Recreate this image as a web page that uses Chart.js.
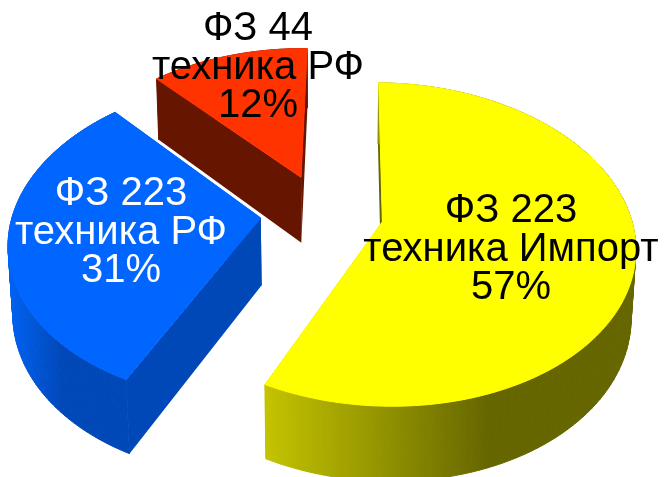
<!DOCTYPE html>
<html>
<head>
<meta charset="utf-8">
<script src="https://cdn.jsdelivr.net/npm/chart.js@4"></script>
<style>
  html, body { margin: 0; background: #fff; }
  canvas { display: block; }
</style>
</head>
<body>
<canvas id="myChart" width="664" height="477"></canvas>
<script>
const categories = ['ФЗ 223 техника Импорт', 'ФЗ 223 техника РФ', 'ФЗ 44 техника РФ'];
const values = [57, 31, 12];
const labelLines = [
  ['ФЗ 223', 'техника Импорт', '57%'],
  ['ФЗ 223', 'техника РФ', '31%'],
  ['ФЗ 44', 'техника РФ', '12%']
];
const topColors = ['#FFFF00', '#0066FF', '#FF3300'];
const cutColors = ['#666600', '#0048B8', '#651500'];
const wallColors = [
  [[0, '#C4C400'], [0.6, '#666600'], [1, '#666600']],
  [[0, '#0062F4'], [0.46, '#0048B8'], [1, '#0048B8']],
  [[0, '#651500'], [1, '#651500']]
];
const labelColors = ['#000', '#fff', '#000'];
// where the text block goes, centre x and first baseline
const labelSpots = [[511, 222], [121, 205], [258, 40]];

// fake 3d: disc seen from above, the near edge bigger than the far one
const persp = { sx: 1.31, sy: 0.825, depth: 68, back: 0.14, down: 0.015 };

function project(arc, u, v, z) {
  const w = 1 + persp.back * v + persp.down * z;
  return [
    arc.x + persp.sx * arc.outerRadius * u / w,
    arc.y + (-persp.sy * arc.outerRadius * v + persp.depth * z) / w
  ];
}

function slicePoints(arc, z) {
  const o = arc.options.offset / arc.outerRadius;
  const mid = (arc.startAngle + arc.endAngle) / 2;
  const ou = o * Math.cos(mid), ov = -o * Math.sin(mid);
  const pts = [];
  for (let i = 0; i <= 120; i++) {
    const a = arc.startAngle + (arc.endAngle - arc.startAngle) * i / 120;
    pts.push(project(arc, ou + Math.cos(a), ov - Math.sin(a), z));
  }
  return { apex: project(arc, ou, ov, z), pts };
}

function fillPoly(ctx, pts, fill, seam) {
  ctx.beginPath();
  pts.forEach((p, i) => i ? ctx.lineTo(p[0], p[1]) : ctx.moveTo(p[0], p[1]));
  ctx.closePath();
  ctx.fillStyle = fill;
  ctx.fill();
  if (seam) {
    ctx.strokeStyle = fill;
    ctx.lineWidth = 1;
    ctx.stroke();
  }
}

const pie3d = {
  id: 'pie3d',
  beforeDatasetsDraw(chart) {
    const ctx = chart.ctx;
    const arcs = chart.getDatasetMeta(0).data;
    // back slice first
    [2, 1, 0].forEach(i => {
      const top = slicePoints(arcs[i], 0);
      const low = slicePoints(arcs[i], 1);
      const last = top.pts.length - 1;
      fillPoly(ctx, [top.apex, top.pts[0], low.pts[0], low.apex], cutColors[i]);
      fillPoly(ctx, [top.apex, top.pts[last], low.pts[last], low.apex], cutColors[i]);

      const xs = top.pts.map(p => p[0]);
      const grad = ctx.createLinearGradient(Math.min(...xs), 0, Math.max(...xs), 0);
      wallColors[i].forEach(s => grad.addColorStop(s[0], s[1]));
      // one quad per step, a single polygon folds over itself at the silhouette
      for (let n = 0; n < last; n++) {
        fillPoly(ctx, [top.pts[n], top.pts[n + 1], low.pts[n + 1], low.pts[n]], grad, true);
      }

      // seam stroke here too, or the wall shows as a dark rim on the far edge
      fillPoly(ctx, [top.apex].concat(top.pts), topColors[i], true);
    });
    return false;
  },
  afterDraw(chart) {
    const ctx = chart.ctx;
    ctx.font = '40px "Liberation Sans"';
    ctx.textAlign = 'center';
    ctx.textBaseline = 'alphabetic';
    labelLines.forEach((lines, i) => {
      ctx.fillStyle = labelColors[i];
      lines.forEach((t, n) => ctx.fillText(t, labelSpots[i][0], labelSpots[i][1] + n * 38.5));
    });
  }
};

const ctx = document.getElementById('myChart').getContext('2d');
const myChart = new Chart(ctx, {
  type: 'pie',
  data: {
    labels: categories,
    datasets: [{
      data: values,
      backgroundColor: topColors,
      borderWidth: 0,
      offset: 47
    }]
  },
  options: {
    responsive: false,
    animation: false,
    rotation: 1,
    layout: { padding: { right: 20, bottom: 52 } },
    plugins: { legend: { display: false }, tooltip: { enabled: false } }
  },
  plugins: [pie3d]
});
</script>
</body>
</html>
